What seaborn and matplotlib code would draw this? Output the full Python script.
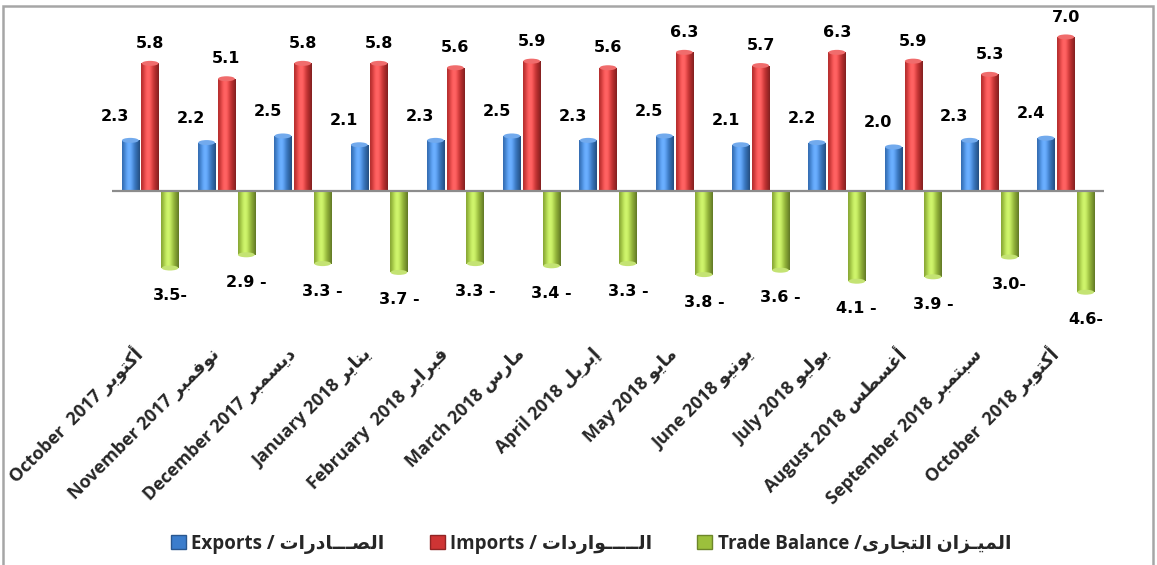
import numpy as np
import pandas as pd
import matplotlib
matplotlib.use("Agg")
import matplotlib.pyplot as plt
import matplotlib.colors as mcolors
from matplotlib.patches import Patch, Rectangle, Ellipse
from matplotlib.font_manager import FontProperties
from matplotlib.transforms import ScaledTranslation
import seaborn as sns

# ---- data (billion) ----
months_en = ["October  2017", "November 2017", "December 2017", "January 2018",
             "February  2018", "March 2018", "April 2018", "May 2018",
             "June 2018", "July 2018", "August 2018", "September 2018",
             "October  2018"]
months_ar = ["أكتوبر", "نوفمبر", "ديسمبر", "يناير", "فبراير", "مارس", "إبريل",
             "مايو", "يونيو", "يوليو", "أغسطس", "سبتمبر", "أكتوبر"]
exports = [2.3, 2.2, 2.5, 2.1, 2.3, 2.5, 2.3, 2.5, 2.1, 2.2, 2.0, 2.3, 2.4]
imports = [5.8, 5.1, 5.8, 5.8, 5.6, 5.9, 5.6, 6.3, 5.7, 6.3, 5.9, 5.3, 7.0]
balance = [-3.5, -2.9, -3.3, -3.7, -3.3, -3.4, -3.3, -3.8, -3.6, -4.1, -3.9, -3.0, -4.6]
balance_suffix = ["-", " -", " -", " -", " -", " -", " -", " -", " -", " -", " -", "-", "-"]

series_en = ["Exports / ", "Imports / ", "Trade Balance /"]
series_ar = ["الصـــادرات", "الـــــواردات", "الميـزان التجارى"]
colors = ["#3B7DCC", "#CF3434", "#9CC03C"]

# ---- Arabic contextual shaping (matplotlib draws glyphs left to right, unshaped) ----
FORMS = {
    'ا': ('\uFE8D', '\uFE8E', None, None),
    'أ': ('\uFE83', '\uFE84', None, None),
    'إ': ('\uFE87', '\uFE88', None, None),
    'ب': ('\uFE8F', '\uFE90', '\uFE91', '\uFE92'),
    'ت': ('\uFE95', '\uFE96', '\uFE97', '\uFE98'),
    'ج': ('\uFE9D', '\uFE9E', '\uFE9F', '\uFEA0'),
    'د': ('\uFEA9', '\uFEAA', None, None),
    'ر': ('\uFEAD', '\uFEAE', None, None),
    'ز': ('\uFEAF', '\uFEB0', None, None),
    'س': ('\uFEB1', '\uFEB2', '\uFEB3', '\uFEB4'),
    'ص': ('\uFEB9', '\uFEBA', '\uFEBB', '\uFEBC'),
    'ط': ('\uFEC1', '\uFEC2', '\uFEC3', '\uFEC4'),
    'غ': ('\uFECD', '\uFECE', '\uFECF', '\uFED0'),
    'ف': ('\uFED1', '\uFED2', '\uFED3', '\uFED4'),
    'ك': ('\uFED9', '\uFEDA', '\uFEDB', '\uFEDC'),
    'ل': ('\uFEDD', '\uFEDE', '\uFEDF', '\uFEE0'),
    'م': ('\uFEE1', '\uFEE2', '\uFEE3', '\uFEE4'),
    'ن': ('\uFEE5', '\uFEE6', '\uFEE7', '\uFEE8'),
    'و': ('\uFEED', '\uFEEE', None, None),
    'ى': ('\uFEEF', '\uFEF0', None, None),
    'ي': ('\uFEF1', '\uFEF2', '\uFEF3', '\uFEF4'),
    'ـ': ('\u0640', '\u0640', '\u0640', '\u0640'),
}


def arabic(text):
    out = []
    for i, ch in enumerate(text):
        if ch not in FORMS:
            out.append(ch)
            continue
        iso, fin, ini, med = FORMS[ch]
        prev = text[i - 1] if i > 0 else None
        nxt = text[i + 1] if i + 1 < len(text) else None
        join_prev = prev in FORMS and FORMS[prev][2] is not None
        join_next = ini is not None and nxt in FORMS
        if join_prev and join_next:
            out.append(med)
        elif join_prev:
            out.append(fin)
        elif join_next:
            out.append(ini)
        else:
            out.append(iso)
    return "".join(reversed(out))


tick_labels = [f"{en} {arabic(ar)}" for en, ar in zip(months_en, months_ar)]
series_labels = [en + arabic(ar) for en, ar in zip(series_en, series_ar)]

df = pd.DataFrame({
    "month": np.tile(np.arange(len(months_en)), 3),
    "value": exports + imports + balance,
    "series": np.repeat(series_labels, len(months_en)),
})

# ---- figure ----
sns.set_theme(style="white")
plt.rcParams["font.family"] = ["Open Sans", "DejaVu Sans"]

W, H = 1157, 565
fig = plt.figure(figsize=(W / 100, H / 100), dpi=100)
ax = fig.add_axes([112 / W, 1 - 325 / H, (1104 - 112) / W, (325 - 20) / H])

sns.barplot(data=df, x="month", y="value", hue="series", hue_order=series_labels,
            palette=colors, width=0.78, gap=0.12, saturation=1, errorbar=None,
            legend=False, ax=ax)

Y_LO, Y_HI = -6.09, 7.77
PX_PER_UNIT = (325 - 20) / (Y_HI - Y_LO)


def cylinder_fill(patch, base):
    """Replace a flat bar with a horizontally shaded, tube-like fill and a lit end cap."""
    x0, y0 = patch.get_x(), patch.get_y()
    w, h = patch.get_width(), patch.get_height()
    rgb = np.array(mcolors.to_rgb(base))
    t = np.linspace(-1, 1, 48)
    f = np.clip(1 - ((t + 0.2) / 1.2) ** 2, 0, 1)
    col = rgb[None, :] * (0.62 + 0.42 * f[:, None]) + 0.18 * (f[:, None] ** 6)
    col = np.clip(col, 0, 1)
    img = np.repeat(col[None, :, :], 2, axis=0)
    lo, hi = min(y0, y0 + h), max(y0, y0 + h)
    im = ax.imshow(img, extent=[x0, x0 + w, lo, hi],
                   aspect="auto", interpolation="bicubic", zorder=2)
    im.set_clip_path(patch)
    patch.set_facecolor("none")
    patch.set_edgecolor("none")
    # end cap of the tube
    cap_h = 5 / PX_PER_UNIT
    end = hi if h > 0 else lo
    cap = Ellipse((x0 + w / 2, end), w * 0.96, cap_h,
                  facecolor=np.clip(rgb * 0.85 + 0.25, 0, 1), edgecolor="none",
                  zorder=2.5)
    ax.add_patch(cap)


for cont, base in zip(ax.containers, colors):
    for bar in cont:
        cylinder_fill(bar, base)

ax.set_xlim(-0.5, len(months_en) - 0.5)
ax.set_ylim(Y_LO, Y_HI)
ax.axhline(0, color="#8C8C8C", lw=1.6, zorder=3)

num_font = dict(family="DejaVu Sans", weight="bold", size=11.5, color="black")
exp_bars, imp_bars, bal_bars = ax.containers
for bar, v in zip(exp_bars, exports):
    cx = bar.get_x() + bar.get_width() / 2
    ax.text(cx - 0.2, v + 1.1, f"{v:.1f}", ha="center", va="center", **num_font)
for bar, v in zip(imp_bars, imports):
    cx = bar.get_x() + bar.get_width() / 2
    ax.text(cx, v + 0.9, f"{v:.1f}", ha="center", va="center", **num_font)
for bar, v, suf in zip(bal_bars, balance, balance_suffix):
    cx = bar.get_x() + bar.get_width() / 2
    ax.text(cx, v - 1.25, f"{abs(v):.1f}{suf}", ha="center", va="center", **num_font)

ax.set_xticks(range(len(months_en)))
ax.set_xticklabels(tick_labels, rotation=45, ha="right", va="center",
                   rotation_mode="anchor", fontsize=13, fontweight="bold")
ax.tick_params(axis="x", length=0, pad=19)
shift = ScaledTranslation(-10 / 100, 0, fig.dpi_scale_trans)
for lab in ax.get_xticklabels():
    lab.set_transform(lab.get_transform() + shift)
ax.set_yticks([])
ax.set_xlabel("")
ax.set_ylabel("")
for s in ax.spines.values():
    s.set_visible(False)
ax.set_facecolor("none")

# ---- legend ----
handles = [Patch(facecolor=c, edgecolor=mcolors.to_hex(np.array(mcolors.to_rgb(c)) * 0.7))
           for c in colors]
fig.legend(handles, series_labels, loc="center", bbox_to_anchor=(0.511, 0.038),
           ncol=3, frameon=False, handlelength=0.8, handleheight=0.8,
           handletextpad=0.3, columnspacing=2.4,
           prop=FontProperties(family=["Open Sans", "DejaVu Sans"], weight="bold", size=13.5))

# outer chart frame
fig.add_artist(Rectangle((3 / W, -0.02), (1153 - 3) / W, 1.02 - 6 / H,
                         transform=fig.transFigure, fill=False,
                         edgecolor="#A6A6A6", lw=1.8))

fig.savefig("out.png", dpi=100, facecolor="white")
